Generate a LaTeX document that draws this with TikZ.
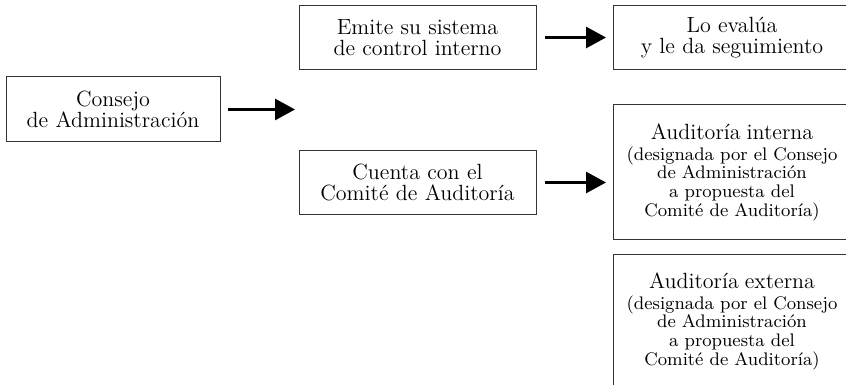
\documentclass[tikz,border=0pt]{standalone}
\usetikzlibrary{arrows.meta}
\begin{document}
\begin{tikzpicture}[x=0.5pt, y=-0.5pt]
        \tikzstyle{every node}=[draw=black!80, line width=0.5pt, inner xsep=3.25pt, inner ysep=0pt, align=center, font=\fontsize{11}{10.85}\selectfont]
        \tikzstyle{caja}=[text width=112pt, minimum height=32pt]
        \tikzstyle{cajaalta}=[text width=112pt, minimum height=67pt, font=\fontsize{9.1}{9.35}\selectfont]
        \tikzstyle{flecha}=[line width=1.5pt, -{Triangle[length=10pt, width=10.5pt]}]
        \useasboundingbox (0,0) rectangle (846,385);
        \clip (0,0) rectangle (846,385);
        \node [text width=100.5pt, minimum height=32.5pt] (consejo) at (113,109.5) {Consejo\\de Administración};
        \node [caja] (emite) at (417.5,37.5) {Emite su sistema\\de control interno};
        \node [caja] (evalua) at (732,37.5) {Lo evalúa\\y le da seguimiento};
        \node [caja] (cuenta) at (417.5,182.5) {Cuenta con el\\Comité de Auditoría};
        \node [cajaalta] (interna) at (732,172) {{\fontsize{11}{11}\selectfont Auditoría interna}\\[1.15pt](designada por el Consejo\\de Administración\\a propuesta del\\Comité de Auditoría)};
        \node [cajaalta] (externa) at (732,321) {{\fontsize{11}{11}\selectfont Auditoría externa}\\[1.15pt](designada por el Consejo\\de Administración\\a propuesta del\\Comité de Auditoría)};
        \coordinate (hueco) at (295,109.5);
        \draw [flecha, shorten <=3.5pt] (consejo.east) -- (hueco);
        \draw [flecha, shorten <=4pt, shorten >=3.5pt] (emite.east) -- (evalua.west);
        \draw [flecha, shorten <=4pt, shorten >=3.5pt] (cuenta.east) -- (cuenta.east -| interna.west);
    \end{tikzpicture}
\end{document}
